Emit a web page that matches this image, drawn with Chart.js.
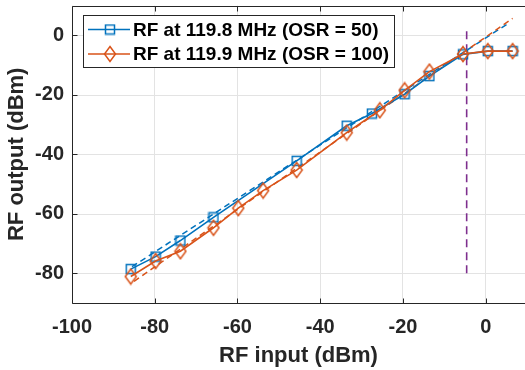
<!DOCTYPE html>
<html>
<head>
<meta charset="utf-8">
<script src="https://cdn.jsdelivr.net/npm/chart.js@4.4.1/dist/chart.umd.min.js"></script>
<style>
  html, body { margin: 0; padding: 0; background: #fff; overflow: hidden; }
  canvas { display: block; }
</style>
</head>
<body>
<canvas id="rfChart" width="525" height="370"></canvas>
<script>
"use strict";

// Mätdata läst ur figuren
const blueLabel = "RF at 119.8 MHz (OSR = 50)";
const blueX = [-85.8, -79.8, -73.8, -65.8, -45.7, -33.6, -27.5, -19.6, -13.6, -5.5, 0.5, 6.5];
const blueY = [-78.6, -74.4, -69.0, -61.2, -42.2, -30.4, -26.3, -19.8, -13.7, -6.4, -5.3, -5.3];

const orangeLabel = "RF at 119.9 MHz (OSR = 100)";
const orangeX = [-85.8, -79.8, -73.8, -65.8, -59.8, -53.8, -45.7, -33.6, -25.6, -19.6, -13.6, -5.5, 0.5, 6.5];
const orangeY = [-81.1, -75.9, -72.6, -64.7, -58.1, -52.2, -45.3, -32.7, -25.2, -18.5, -12.2, -6.3, -5.3, -5.3];

// Anpassade linjer (streckade)
const blueFitX = [-85.5, 5.1];
const blueFitY = [-77.8, 3.7];
const orangeFitX = [-85.0, 6.5];
const orangeFitY = [-82.7, 5.7];

// Vertikal streckad linje
const limitX = [-4.6, -4.6];
const limitY = [-80, 2.3];

const xTicks = [-100, -80, -60, -40, -20, 0];
const yTicks = [-80, -60, -40, -20, 0];

const blue = "#0072BD";
const orange = "#D95319";
const purple = "#7E2F8E";
const axisColor = "#262626";
const gridColor = "#e3e3e3";
const fontFamily = "'Liberation Sans', Arial, sans-serif";

function toPoints(xs, ys) {
    return xs.map((x, i) => ({ x: x, y: ys[i] }));
}

function squareMarker(color) {
    const c = document.createElement("canvas");
    c.width = 12; c.height = 12;
    const g = c.getContext("2d");
    g.strokeStyle = color;
    g.lineWidth = 1.5;
    g.strokeRect(1.5, 1.5, 9, 9);
    return c;
}

function diamondMarker(color) {
    const c = document.createElement("canvas");
    c.width = 14; c.height = 18;
    const g = c.getContext("2d");
    g.strokeStyle = color;
    g.lineWidth = 1.5;
    g.beginPath();
    g.moveTo(7, 1.5); g.lineTo(12.5, 9); g.lineTo(7, 16.5); g.lineTo(1.5, 9);
    g.closePath();
    g.stroke();
    return c;
}

const squareImg = squareMarker(blue);
const diamondImg = diamondMarker(orange);

// Plottytan ska gå ända ut till högerkanten (ramen klipps som i originalet)
const stretchPlugin = {
    id: "stretch",
    afterLayout(chart) {
        const w = chart.width;
        const x = chart.scales.x;
        x.right = w;
        x.width = w - x.left;
        x.configure();
    }
};

// Horisontella rutnätslinjer ända ut till kanten
const yGridPlugin = {
    id: "yGrid",
    beforeDatasetsDraw(chart) {
        const { ctx, chartArea: a, scales } = chart;
        ctx.save();
        ctx.strokeStyle = gridColor;
        ctx.lineWidth = 1;
        ctx.beginPath();
        yTicks.forEach(v => {
            const py = Math.round(scales.y.getPixelForValue(v)) + 0.5;
            ctx.moveTo(a.left, py); ctx.lineTo(chart.width, py);
        });
        ctx.stroke();
        ctx.restore();
    }
};

// Ram (vänster, över, under) + inåtriktade tickmarkeringar
const boxPlugin = {
    id: "box",
    afterDraw(chart) {
        const { ctx, chartArea: a, scales } = chart;
        const left = Math.round(a.left) + 0.5;
        const top = Math.round(a.top) + 0.5;
        const bottom = Math.round(a.bottom) + 0.5;
        ctx.save();
        ctx.strokeStyle = axisColor;
        ctx.lineWidth = 1;
        ctx.beginPath();
        xTicks.forEach(v => {
            const px = Math.round(scales.x.getPixelForValue(v)) + 0.5;
            ctx.moveTo(px, bottom); ctx.lineTo(px, bottom - 5);
            ctx.moveTo(px, top); ctx.lineTo(px, top + 5);
        });
        yTicks.forEach(v => {
            const py = Math.round(scales.y.getPixelForValue(v)) + 0.5;
            ctx.moveTo(left, py); ctx.lineTo(left + 5, py);
        });
        ctx.moveTo(left, top); ctx.lineTo(chart.width, top);
        ctx.moveTo(left, bottom); ctx.lineTo(chart.width, bottom);
        ctx.moveTo(left, top); ctx.lineTo(left, bottom);
        ctx.stroke();
        ctx.restore();
    }
};

// Egen förklaring i övre vänstra hörnet
const legendPlugin = {
    id: "boxLegend",
    afterDraw(chart) {
        const ctx = chart.ctx;
        const left = 83.5, top = 15.5, w = 311, h = 52;
        ctx.save();
        ctx.fillStyle = "#fff";
        ctx.fillRect(left, top, w, h);
        ctx.strokeStyle = axisColor;
        ctx.lineWidth = 1;
        ctx.strokeRect(left, top, w, h);

        const rows = [
            { y: 29.5, color: blue, img: squareImg, text: blueLabel },
            { y: 54, color: orange, img: diamondImg, text: orangeLabel }
        ];
        ctx.font = "bold 19px " + fontFamily;
        ctx.textBaseline = "middle";
        rows.forEach(r => {
            ctx.strokeStyle = r.color;
            ctx.lineWidth = 1.6;
            ctx.beginPath();
            ctx.moveTo(88, r.y); ctx.lineTo(130, r.y);
            ctx.stroke();
            ctx.drawImage(r.img, 110 - r.img.width / 2, r.y - r.img.height / 2);
            ctx.fillStyle = "#000";
            ctx.fillText(r.text, 133, r.y + 1);
        });
        ctx.restore();
    }
};

const ctx = document.getElementById("rfChart");

new Chart(ctx, {
    type: "scatter",
    data: {
        datasets: [
            {
                label: orangeLabel,
                data: toPoints(orangeX, orangeY),
                showLine: true,
                borderColor: orange,
                borderWidth: 1.6,
                pointStyle: diamondImg,
                clip: false,
                order: 0
            },
            {
                label: blueLabel,
                data: toPoints(blueX, blueY),
                showLine: true,
                borderColor: blue,
                borderWidth: 1.6,
                pointStyle: squareImg,
                clip: false,
                order: 1
            },
            {
                label: "fit orange",
                data: toPoints(orangeFitX, orangeFitY),
                showLine: true,
                borderColor: orange,
                borderWidth: 1.5,
                borderDash: [6, 4],
                pointRadius: 0,
                clip: false,
                order: 2
            },
            {
                label: "fit blue",
                data: toPoints(blueFitX, blueFitY),
                showLine: true,
                borderColor: blue,
                borderWidth: 1.5,
                borderDash: [6, 4],
                pointRadius: 0,
                clip: false,
                order: 3
            },
            {
                label: "limit",
                data: toPoints(limitX, limitY),
                showLine: true,
                borderColor: purple,
                borderWidth: 1.6,
                borderDash: [8, 5],
                pointRadius: 0,
                clip: false,
                order: 4
            }
        ]
    },
    options: {
        responsive: false,
        animation: false,
        layout: { padding: { top: 5, right: 0, left: 0, bottom: 0 } },
        plugins: {
            legend: { display: false },
            tooltip: { enabled: false }
        },
        scales: {
            x: {
                type: "linear",
                min: -100,
                max: 9.5,
                afterBuildTicks: scale => { scale.ticks = xTicks.map(v => ({ value: v })); },
                afterFit: scale => {
                    scale.height = 67;
                    scale.paddingLeft = 0;
                    scale.paddingRight = 0;
                },
                grid: { color: gridColor, drawTicks: false },
                border: { display: false },
                ticks: {
                    padding: 12,
                    color: axisColor,
                    font: { family: fontFamily, size: 20, weight: "bold" },
                    maxRotation: 0
                },
                title: {
                    display: true,
                    text: "RF input (dBm)",
                    color: axisColor,
                    font: { family: fontFamily, size: 22, weight: "bold" },
                    padding: { top: 0, bottom: 1 }
                }
            },
            y: {
                type: "linear",
                min: -90,
                max: 10,
                afterBuildTicks: scale => { scale.ticks = yTicks.map(v => ({ value: v })); },
                afterFit: scale => {
                    scale.width = 72;
                    scale.paddingTop = 0;
                    scale.paddingBottom = 0;
                },
                grid: { display: false, drawTicks: false },
                border: { display: false },
                ticks: {
                    padding: 8,
                    color: axisColor,
                    font: { family: fontFamily, size: 20, weight: "bold" }
                },
                title: {
                    display: true,
                    text: "RF output (dBm)",
                    color: axisColor,
                    font: { family: fontFamily, size: 22, weight: "bold" },
                    padding: { top: 4, bottom: 0 }
                }
            }
        }
    },
    plugins: [stretchPlugin, yGridPlugin, boxPlugin, legendPlugin]
});
</script>
</body>
</html>
